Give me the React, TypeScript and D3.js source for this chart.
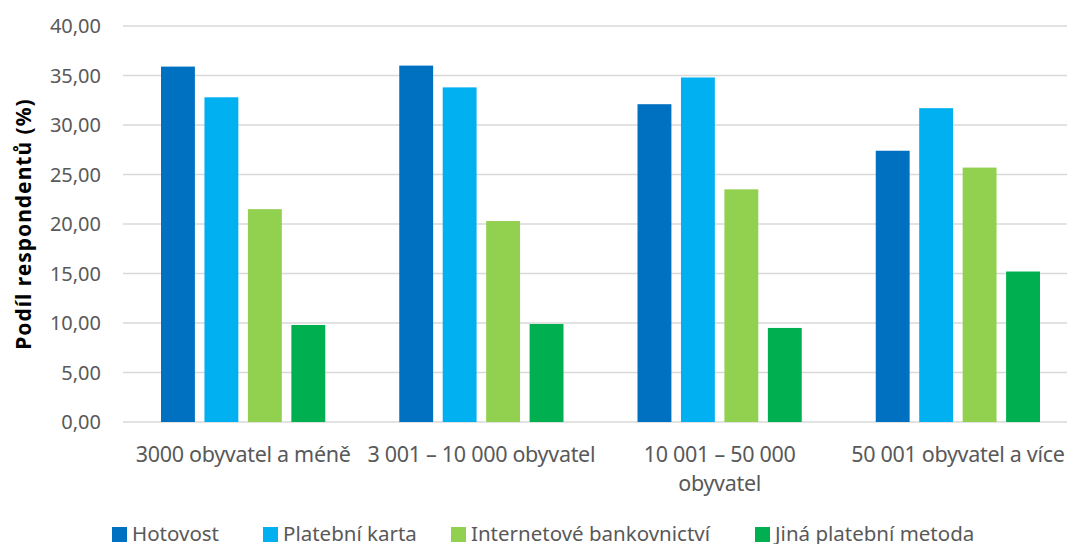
import React, { useEffect, useRef } from 'react';
import * as d3 from 'd3';

const categories = [
  ['3000 obyvatel a méně'],
  ['3 001 – 10 000 obyvatel'],
  ['10 001 – 50 000', 'obyvatel'],
  ['50 001 obyvatel a více'],
];
const seriesNames = ['Hotovost', 'Platební karta', 'Internetové bankovnictví', 'Jiná platební metoda'];
const hotovost = [35.9, 36.0, 32.1, 27.4];
const platebniKarta = [32.8, 33.8, 34.8, 31.7];
const internetove = [21.5, 20.3, 23.5, 25.7];
const jina = [9.8, 9.9, 9.5, 15.2];
const yTicks = [0, 5, 10, 15, 20, 25, 30, 35, 40];
const colors = ['#0070C0', '#00B0F0', '#92D050', '#00B050'];

const W = 1067;
const H = 544;
const FONT = "'Noto Sans', sans-serif";

export default function App() {
  const svgRef = useRef<SVGSVGElement>(null);

  useEffect(() => {
    const svg = d3.select(svgRef.current);
    svg.selectAll('*').remove();

    const margin = { left: 124, top: 26, bottom: 122 };
    const plotBottom = H - margin.bottom;
    const values = [hotovost, platebniKarta, internetove, jina];

    const x0 = d3
      .scaleBand<number>()
      .domain(d3.range(categories.length))
      .range([margin.left, margin.left + 953]);
    const x1 = d3
      .scaleBand<number>()
      .domain(d3.range(seriesNames.length))
      .range([37, x0.bandwidth() - 37])
      .paddingInner(0.22);
    const y = d3.scaleLinear().domain([0, 40]).range([plotBottom, margin.top]);

    // gridlines
    svg
      .append('g')
      .selectAll('line')
      .data(yTicks)
      .join('line')
      .attr('x1', 123)
      .attr('x2', W)
      .attr('y1', (d) => y(d))
      .attr('y2', (d) => y(d))
      .attr('stroke', '#d9d9d9')
      .attr('stroke-width', 1.5);

    // y tick labels
    svg
      .append('g')
      .selectAll('text')
      .data(yTicks)
      .join('text')
      .attr('x', 101)
      .attr('y', (d) => y(d))
      .attr('dy', '0.35em')
      .attr('text-anchor', 'end')
      .attr('font-family', FONT)
      .attr('font-size', 20)
      .attr('fill', '#595959')
      .text((d) => d.toFixed(2).replace('.', ','));

    // y title
    svg
      .append('text')
      .attr('transform', `translate(31, ${y(20)}) rotate(-90)`)
      .attr('text-anchor', 'middle')
      .attr('font-family', FONT)
      .attr('font-size', 21)
      .attr('font-weight', 'bold')
      .attr('letter-spacing', 1)
      .attr('fill', '#000')
      .text('Podíl respondentů (%)');

    // bars
    const groups = svg
      .append('g')
      .selectAll('g')
      .data(categories.map((_, i) => i))
      .join('g')
      .attr('transform', (i) => `translate(${x0(i)},0)`);
    groups
      .selectAll('rect')
      .data((i) => values.map((s, k) => ({ k, v: s[i] })))
      .join('rect')
      .attr('x', (d) => x1(d.k)!)
      .attr('width', x1.bandwidth())
      .attr('y', (d) => y(d.v))
      .attr('height', (d) => plotBottom - y(d.v))
      .attr('fill', (d) => colors[d.k]);

    // category labels
    const cat = svg
      .append('g')
      .selectAll('text')
      .data(categories)
      .join('text')
      .attr('x', (_, i) => x0(i)! + x0.bandwidth() / 2)
      .attr('y', 462)
      .attr('text-anchor', 'middle')
      .attr('font-family', FONT)
      .attr('font-size', 21.5)
      .attr('letter-spacing', -0.3)
      .attr('fill', '#595959');
    cat
      .selectAll('tspan')
      .data((d) => d)
      .join('tspan')
      .attr('x', function () {
        return (this.parentNode as SVGTextElement).getAttribute('x');
      })
      .attr('dy', (_, j) => (j === 0 ? 0 : 29))
      .text((d) => d);

    // legend
    const legendX = [112, 263, 451, 755];
    const leg = svg
      .append('g')
      .selectAll('g')
      .data(seriesNames)
      .join('g')
      .attr('transform', (_, i) => `translate(${legendX[i]}, 527)`);
    leg
      .append('rect')
      .attr('width', 15)
      .attr('height', 15)
      .attr('fill', (_, i) => colors[i]);
    leg
      .append('text')
      .attr('x', 20)
      .attr('y', 14)
      .attr('font-family', FONT)
      .attr('font-size', 20.5)
      .attr('fill', '#595959')
      .text((d) => d);
  }, []);

  return (
    <svg
      ref={svgRef}
      width={W}
      height={H}
      style={{ position: 'absolute', left: 0, top: 0, background: '#fff' }}
    />
  );
}
